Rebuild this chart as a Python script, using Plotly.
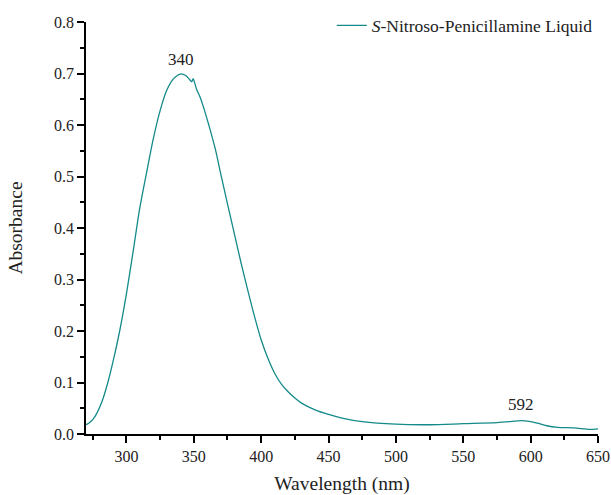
import plotly.graph_objects as go

wavelength = [270, 272, 275, 278, 282, 286, 290, 295, 300, 305, 310, 315, 320, 325, 330, 335,
              340, 344, 347, 348.5, 349.5, 352, 355, 358, 362, 366, 370, 375, 380, 385, 390,
              395, 400, 405, 410, 415, 420, 425, 430, 440, 450, 460, 475, 500, 525, 550, 575,
              585, 593, 600, 605, 612, 620, 632, 644, 650]
absorbance = [0.018, 0.021, 0.028, 0.040, 0.064, 0.098, 0.140, 0.200, 0.272, 0.355, 0.440, 0.508,
              0.574, 0.628, 0.668, 0.690, 0.699, 0.696, 0.688, 0.684, 0.690, 0.670, 0.652, 0.628,
              0.592, 0.553, 0.505, 0.447, 0.390, 0.333, 0.280, 0.229, 0.183, 0.147, 0.118, 0.097,
              0.082, 0.070, 0.060, 0.047, 0.038, 0.031, 0.024, 0.019, 0.018, 0.020, 0.022, 0.024,
              0.026, 0.024, 0.021, 0.016, 0.013, 0.012, 0.009, 0.010]
peak_labels = ["340", "592"]
peak_x = [340.5, 593]
peak_y = [0.704, 0.034]
series_name = "<i>S</i>-Nitroso-Penicillamine Liquid"

color = "#148a8a"
font = "Liberation Serif"

fig = go.Figure()
fig.add_trace(go.Scatter(x=wavelength, y=absorbance, mode="lines", name=series_name,
                         line=dict(color=color, width=1.3, shape="spline", smoothing=0.8),
                         showlegend=True))

for lab, px, py in zip(peak_labels, peak_x, peak_y):
    fig.add_annotation(x=px, y=py, text=lab, showarrow=False, yanchor="bottom",
                       font=dict(family=font, size=17, color="#222"))

axis_common = dict(showline=True, linecolor="black", linewidth=1.6, ticks="outside",
                   ticklen=7, tickwidth=1.5, tickcolor="black", showgrid=False, zeroline=False,
                   tickfont=dict(family=font, size=16, color="#222"), mirror=False,
                   automargin=False, ticklabeloverflow="allow")

fig.update_xaxes(range=[270, 650], tick0=300, dtick=50,
                 minor=dict(ticks="outside", ticklen=4, tickwidth=1.5, tickcolor="black",
                            dtick=25, tick0=275),
                 title=dict(text="Wavelength (nm)", font=dict(family=font, size=19.5, color="#222"),
                            standoff=17),
                 **axis_common)
fig.update_yaxes(range=[0, 0.8], tick0=0, dtick=0.1, tickformat=".1f",
                 minor=dict(ticks="outside", ticklen=4, tickwidth=1.5, tickcolor="black",
                            dtick=0.05),
                 title=dict(text="Absorbance", font=dict(family=font, size=19.5, color="#222"),
                            standoff=26),
                 **axis_common)

fig.update_layout(width=611, height=495,
                  margin=dict(l=86, r=12.5, t=22, b=61, autoexpand=False),
                  plot_bgcolor="white", paper_bgcolor="white",
                  legend=dict(x=0.48, y=1.035, xanchor="left", yanchor="top",
                              bgcolor="rgba(0,0,0,0)",
                              font=dict(family=font, size=17.5, color="#222")))

# remove the default 8px page margin so the figure fills the window exactly
fig.write_html("out.html", config={"displayModeBar": False},
               post_script="document.body.style.margin='0';document.body.style.overflow='hidden';")
